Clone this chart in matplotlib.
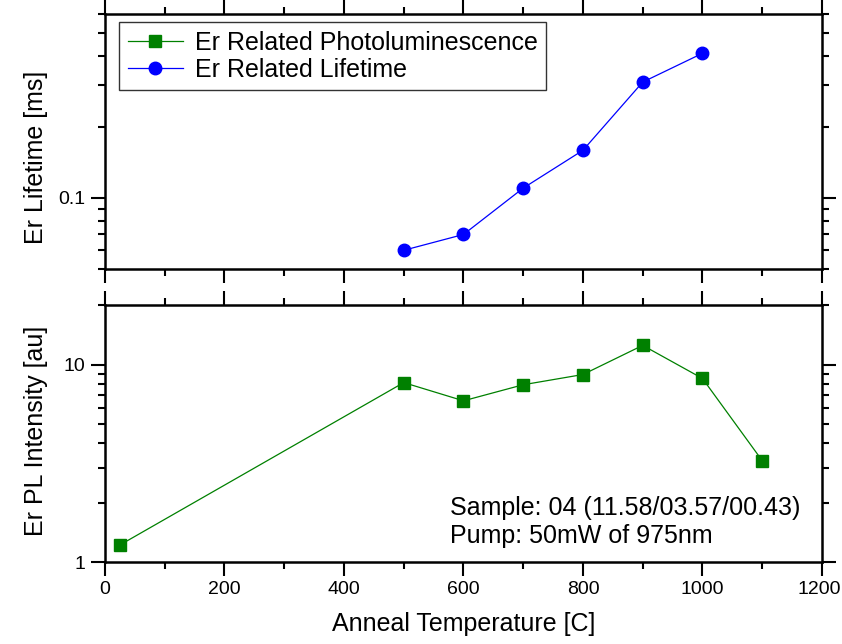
"""Er lifetime and PL intensity vs anneal temperature, two stacked log panels."""
import matplotlib
matplotlib.use("Agg")
import matplotlib.pyplot as plt
import matplotlib.transforms as mtransforms
from matplotlib.ticker import FixedLocator, LogLocator, NullFormatter, FixedFormatter

plt.rcParams["font.family"] = ["Liberation Sans", "DejaVu Sans"]

# data
lt_temp = [500, 600, 700, 800, 900, 1000]
lt_ms = [0.060, 0.070, 0.110, 0.159, 0.309, 0.409]

pl_temp = [25, 500, 600, 700, 800, 900, 1000, 1100]
pl_au = [1.22, 8.1, 6.55, 7.9, 8.9, 12.5, 8.5, 3.26]

x_major = [0, 200, 400, 600, 800, 1000, 1200]
x_minor = [100, 300, 500, 700, 900, 1100]

GREEN = "#008000"
BLUE = "#0000ff"

fig = plt.figure(figsize=(8.42, 6.44), dpi=100)
ax_top = fig.add_axes([0.1247, 0.5823, 0.8515, 0.396])
ax_bot = fig.add_axes([0.1247, 0.1273, 0.8515, 0.399])

lt_line, = ax_top.plot(lt_temp, lt_ms, color=BLUE, lw=0.9, marker="o", ms=9,
                       mec=BLUE, mfc=BLUE, label="Er Related Lifetime")
pl_line, = ax_bot.plot(pl_temp, pl_au, color=GREEN, lw=0.9, marker="s", ms=8,
                       mec=GREEN, mfc=GREEN, label="Er Related Photoluminescence")

for ax in (ax_top, ax_bot):
    ax.set_yscale("log")
    ax.set_xlim(0, 1200)
    ax.xaxis.set_major_locator(FixedLocator(x_major))
    ax.xaxis.set_minor_locator(FixedLocator(x_minor))
    ax.yaxis.set_minor_locator(LogLocator(base=10, subs=range(2, 10)))
    ax.yaxis.set_minor_formatter(NullFormatter())
    ax.tick_params(which="both", direction="out", top=True, right=True,
                   width=1.5, labelsize=14, pad=4)
    ax.tick_params(which="major", length=10)
    ax.tick_params(which="minor", length=5)
    for sp in ax.spines.values():
        sp.set_linewidth(1.8)

ax_top.set_ylim(0.05, 0.6)
ax_top.yaxis.set_major_locator(FixedLocator([0.1]))
ax_top.yaxis.set_major_formatter(FixedFormatter(["0.1"]))
ax_top.tick_params(axis="x", labelbottom=False)
ax_top.set_ylabel("Er Lifetime [ms]", fontsize=18)
ax_top.yaxis.set_label_coords(-0.08, 0.437)

ax_bot.set_ylim(1, 20)
ax_bot.yaxis.set_major_locator(FixedLocator([1, 10]))
ax_bot.yaxis.set_major_formatter(FixedFormatter(["1", "10"]))
ax_bot.set_ylabel("Er PL Intensity [au]", fontsize=18)
ax_bot.yaxis.set_label_coords(-0.08, 0.51)
ax_bot.set_xlabel("Anneal Temperature [C]", fontsize=18, labelpad=10)

ax_bot.text(0.481, 0.183, "Sample: 04 (11.58/03.57/00.43)", transform=ax_bot.transAxes,
            fontsize=18, va="baseline", ha="left")
ax_bot.text(0.481, 0.074, "Pump: 50mW of 975nm", transform=ax_bot.transAxes,
            fontsize=18, va="baseline", ha="left")

leg = ax_top.legend(handles=[pl_line, lt_line], loc="upper left",
                    bbox_to_anchor=(0.0195, 0.9686), fontsize=18, frameon=True,
                    fancybox=False, handlelength=2.2, borderpad=0.35,
                    labelspacing=0.12, handletextpad=0.48, borderaxespad=0)
leg.get_frame().set_edgecolor("black")
leg.get_frame().set_linewidth(1.0)

# nudge the "1200" label a touch left so it stays inside the canvas
fig.canvas.draw()
last = ax_bot.get_xticklabels()[-1]
last.set_transform(last.get_transform()
                   + mtransforms.ScaledTranslation(-3 / 100, 0, fig.dpi_scale_trans))

fig.savefig("out.png", dpi=100)
